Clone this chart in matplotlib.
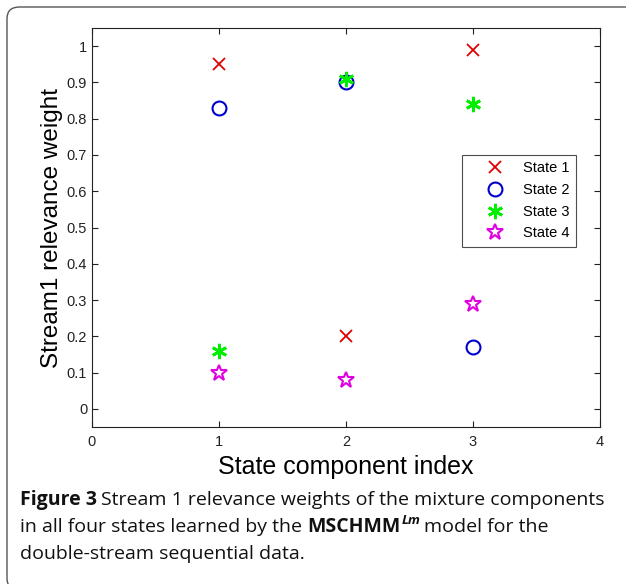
import matplotlib
matplotlib.use("Agg")
import matplotlib.pyplot as plt
from matplotlib.patches import FancyBboxPatch

# -----------------------
# Data
# -----------------------
components = [1, 2, 3]
state1 = [0.95, 0.20, 0.99]
state2 = [0.83, 0.90, 0.17]
state3 = [0.16, 0.91, 0.84]
state4 = [0.10, 0.08, 0.29]
labels = ["State 1", "State 2", "State 3", "State 4"]
yticks = [0, 0.1, 0.2, 0.3, 0.4, 0.5, 0.6, 0.7, 0.8, 0.9, 1]
ytick_labels = ["0", "0.1", "0.2", "0.3", "0.4", "0.5", "0.6", "0.7", "0.8", "0.9", "1"]
xticks = [0, 1, 2, 3, 4]

W, H = 626, 584
fig = plt.figure(figsize=(W / 100, H / 100), dpi=100)
plt.rcParams['font.family'] = ['Liberation Sans', 'DejaVu Sans']

# rounded frame around figure
frame = FancyBboxPatch((7 / W, 1 - 590 / H), 640 / W, 583 / H,
                       boxstyle="round,pad=0,rounding_size=0.02",
                       transform=fig.transFigure, fill=False,
                       edgecolor="#555555", linewidth=1.0)
fig.patches.append(frame)

ax = fig.add_axes([92 / W, 1 - 427 / H, (600 - 92) / W, (427 - 28) / H])

ax.plot(components, state1, linestyle='none', marker='x', color='#e00000',
        markersize=8, markeredgewidth=1.3, label=labels[0])
ax.plot(components, state2, linestyle='none', marker='o', color='#0000cc',
        markerfacecolor='none', markersize=10, markeredgewidth=1.5, label=labels[1])
ax.plot(components, state3, linestyle='none', marker=(6, 2, 0), color='#00ee00',
        markersize=11, markeredgewidth=2.0, label=labels[2])
ax.plot(components, state4, linestyle='none', marker='*', color='#e000e0',
        markerfacecolor='none', markersize=12, markeredgewidth=1.5, label=labels[3])

ax.set_xlim(0, 4)
ax.set_ylim(-0.05, 1.05)
ax.set_xticks(xticks)
ax.set_yticks(yticks)
ax.set_yticklabels(ytick_labels)
ax.tick_params(direction='in', top=True, right=True, length=4, width=0.8,
               labelsize=10.5, colors='#222222')
ax.tick_params(axis='x', pad=6)
for s in ax.spines.values():
    s.set_linewidth(0.8)
    s.set_color('#222222')

ax.set_xlabel("State component index", fontsize=18, labelpad=4)
ax.set_ylabel("Stream1 relevance weight", fontsize=17.5, labelpad=3)

leg = ax.legend(loc='upper left', bbox_to_anchor=(0.728, 0.682), frameon=True,
                fancybox=False, edgecolor='#222222', fontsize=10.5,
                handletextpad=0.15, borderpad=0.45, labelspacing=0.52,
                handlelength=3.6, borderaxespad=0)
leg.get_frame().set_linewidth(0.8)

# -----------------------
# Caption
# -----------------------
cap_font = ['Open Sans', 'DejaVu Sans']
cap_size = 14
x0 = 20 / W
y1, y2, y3 = 1 - 500 / H, 1 - 527 / H, 1 - 554 / H


def put(x, y, s, **kw):
    t = fig.text(x, y, s, fontsize=kw.pop('size', cap_size), family=cap_font,
                 va='center', ha='left', color='#111111', **kw)
    fig.canvas.draw()
    return t.get_window_extent().x1 / W


xe = put(x0, y1, "Figure 3", fontweight='bold')
put(xe + 4 / W, y1, "Stream 1 relevance weights of the mixture components")

xe = put(x0, y2, "in all four states learned by the ")
xe = put(xe, y2, "MSCHMM", fontweight='bold')
xe = put(xe + 1 / W, 1 - 521 / H, "Lm", size=9.5, fontweight='bold', style='italic')
put(xe + 4 / W, y2, "model for the")

put(x0, y3, "double-stream sequential data.")

fig.savefig("out.png", dpi=100)
